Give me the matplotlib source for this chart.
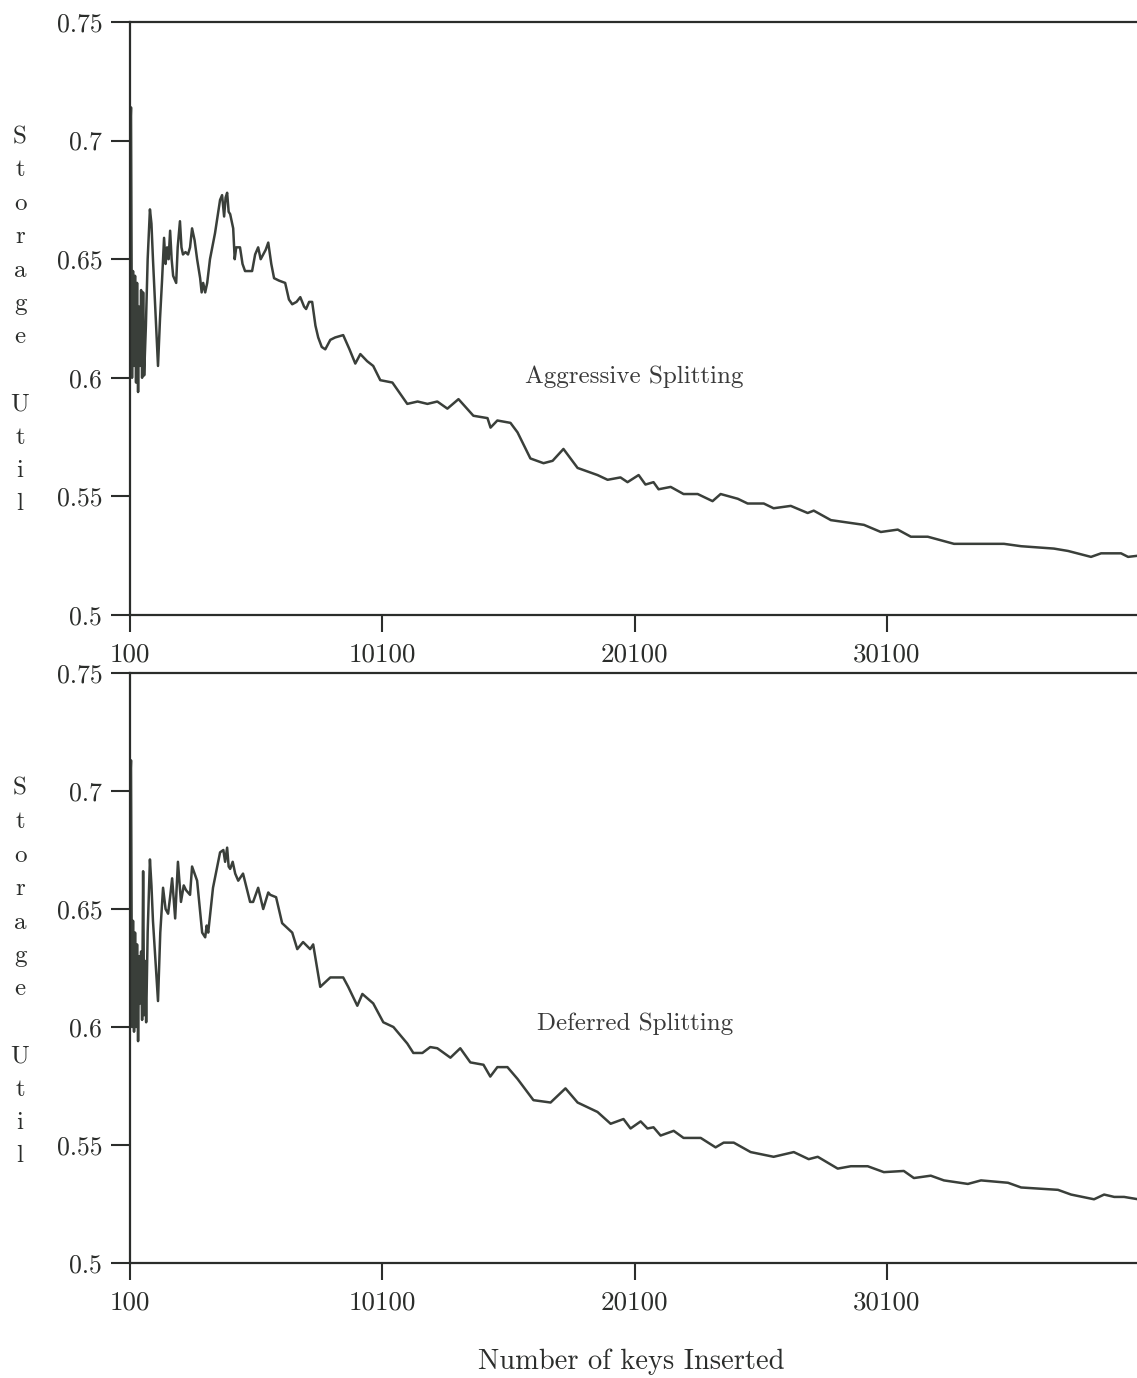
import matplotlib.pyplot as plt

plt.rcParams['font.family'] = ['cmr10', 'DejaVu Serif']
plt.rcParams['axes.unicode_minus'] = False

# Data (keys inserted vs storage utilisation)
top_keys = [100, 140, 180, 220, 260, 300, 340, 380, 420, 460,
            500, 540, 580, 620, 660, 730, 800, 890, 950, 1010,
            1210, 1290, 1370, 1450, 1510, 1570, 1630, 1690, 1750, 1810,
            1930, 1990, 2080, 2140, 2200, 2300, 2400, 2480, 2560, 2660,
            2760, 2880, 2940, 3000, 3080, 3160, 3270, 3470, 3670, 3750,
            3830, 3890, 3950, 4010, 4070, 4190, 4250, 4310, 4460, 4560,
            4660, 4940, 5060, 5180, 5280, 5380, 5480, 5580, 5700, 5810,
            6000, 6250, 6400, 6530, 6700, 6850, 7000, 7080, 7200, 7320,
            7450, 7560, 7700, 7840, 8040, 8230, 8550, 8800, 9030, 9230,
            9500, 9740, 10020, 10500, 11090, 11500, 11890, 12280, 12680, 13120,
            13710, 14270, 14390, 14660, 15180, 15460, 15970, 16490, 16850, 17280,
            17840, 18630, 19030, 19540, 19820, 20260, 20530, 20850, 21050, 21530,
            22040, 22600, 23190, 23510, 24190, 24580, 25220, 25610, 26290, 26960,
            27200, 27880, 28550, 29190, 29860, 30530, 31050, 31720, 32760, 33550,
            34740, 35420, 36720, 37280, 38190, 38590, 39110, 39380, 39660, 40060]
top_util = [0.700, 0.714, 0.600, 0.645, 0.605, 0.643, 0.598, 0.640, 0.594, 0.630,
            0.605, 0.637, 0.600, 0.636, 0.601, 0.622, 0.650, 0.671, 0.665, 0.650,
            0.605, 0.625, 0.641, 0.659, 0.648, 0.655, 0.650, 0.662, 0.650, 0.643,
            0.640, 0.655, 0.666, 0.655, 0.652, 0.653, 0.652, 0.655, 0.663, 0.658,
            0.650, 0.642, 0.636, 0.640, 0.636, 0.640, 0.650, 0.661, 0.675, 0.677,
            0.668, 0.676, 0.678, 0.670, 0.669, 0.663, 0.650, 0.655, 0.655, 0.648,
            0.645, 0.645, 0.652, 0.655, 0.650, 0.652, 0.654, 0.657, 0.648, 0.642,
            0.641, 0.640, 0.633, 0.631, 0.632, 0.634, 0.630, 0.629, 0.632, 0.632,
            0.622, 0.617, 0.613, 0.612, 0.616, 0.617, 0.618, 0.612, 0.606, 0.610,
            0.607, 0.605, 0.599, 0.598, 0.589, 0.590, 0.589, 0.590, 0.587, 0.591,
            0.584, 0.583, 0.579, 0.582, 0.581, 0.577, 0.566, 0.564, 0.565, 0.570,
            0.562, 0.559, 0.557, 0.558, 0.556, 0.559, 0.555, 0.556, 0.553, 0.554,
            0.551, 0.551, 0.548, 0.551, 0.549, 0.547, 0.547, 0.545, 0.546, 0.543,
            0.544, 0.540, 0.539, 0.538, 0.535, 0.536, 0.533, 0.533, 0.530, 0.530,
            0.530, 0.529, 0.528, 0.527, 0.5245, 0.526, 0.526, 0.526, 0.5245, 0.525]

bot_keys = [100, 140, 180, 220, 260, 300, 340, 380, 420, 460,
            500, 540, 580, 620, 660, 700, 740, 800, 890, 950,
            1010, 1210, 1300, 1410, 1510, 1610, 1700, 1770, 1890, 2000,
            2120, 2230, 2320, 2480, 2560, 2760, 2960, 3080, 3140, 3200,
            3390, 3670, 3800, 3870, 3950, 4010, 4070, 4170, 4270, 4390,
            4580, 4860, 4980, 5180, 5380, 5580, 5660, 5890, 6130, 6330,
            6530, 6730, 6960, 7240, 7360, 7640, 8040, 8550, 8750, 9110,
            9310, 9740, 10140, 10540, 11090, 11330, 11690, 12000, 12280, 12800,
            13190, 13590, 14110, 14380, 14660, 15060, 15460, 16090, 16770, 17360,
            17840, 18630, 19150, 19660, 19940, 20340, 20610, 20850, 21130, 21650,
            22040, 22720, 23310, 23630, 24030, 24700, 25610, 26410, 27000, 27360,
            28150, 28670, 29340, 29980, 30770, 31170, 31840, 32360, 33310, 33830,
            34900, 35420, 36880, 37400, 38310, 38710, 39110, 39500, 40060]
bot_util = [0.700, 0.713, 0.600, 0.645, 0.598, 0.640, 0.600, 0.635, 0.594, 0.630,
            0.610, 0.632, 0.603, 0.666, 0.605, 0.628, 0.602, 0.640, 0.671, 0.660,
            0.645, 0.611, 0.640, 0.659, 0.650, 0.648, 0.656, 0.663, 0.646, 0.670,
            0.653, 0.660, 0.658, 0.656, 0.668, 0.662, 0.640, 0.638, 0.643, 0.640,
            0.659, 0.674, 0.675, 0.670, 0.676, 0.668, 0.667, 0.670, 0.665, 0.662,
            0.665, 0.653, 0.653, 0.659, 0.650, 0.657, 0.656, 0.655, 0.644, 0.642,
            0.640, 0.633, 0.636, 0.633, 0.635, 0.617, 0.621, 0.621, 0.617, 0.609,
            0.614, 0.610, 0.602, 0.600, 0.593, 0.589, 0.589, 0.5915, 0.591, 0.587,
            0.591, 0.585, 0.584, 0.579, 0.583, 0.583, 0.578, 0.569, 0.568, 0.574,
            0.568, 0.564, 0.559, 0.561, 0.557, 0.560, 0.557, 0.5575, 0.554, 0.556,
            0.553, 0.553, 0.549, 0.551, 0.551, 0.547, 0.545, 0.547, 0.544, 0.545,
            0.540, 0.541, 0.541, 0.5385, 0.539, 0.536, 0.537, 0.535, 0.5335, 0.535,
            0.534, 0.532, 0.531, 0.529, 0.527, 0.529, 0.528, 0.528, 0.527]

x_ticks = [100, 10100, 20100, 30100]
x_ticklabels = ['100', '10100', '20100', '30100']
y_ticks = [0.5, 0.55, 0.6, 0.65, 0.7, 0.75]
y_ticklabels = ['0.5', '0.55', '0.6', '0.65', '0.7', '0.75']
panel_labels = ['Aggressive Splitting', 'Deferred Splitting']
ylabel_text = 'Storage Util'
xlabel_text = 'Number of keys Inserted'

W, H = 1137, 1378
ink = '#2b2d2b'
line_color = '#3a3f3a'

fig = plt.figure(figsize=(W / 100, H / 100), dpi=100)
fig.patch.set_facecolor('white')

# axes boxes in pixel terms: (top y, bottom y)
boxes = [(22, 615), (673, 1263)]
series = [(top_keys, top_util), (bot_keys, bot_util)]
label_pos = [(20100, 0.6003), (20100, 0.6013)]

for i, ((ytop, ybot), (keys, util)) in enumerate(zip(boxes, series)):
    ax = fig.add_axes([130 / W, 1 - ybot / H, 1 - 130 / W, (ybot - ytop) / H])
    ax.plot(keys, util, color=line_color, linewidth=1.8)
    ax.set_xlim(100, 40013)
    ax.set_ylim(0.5, 0.75)

    for side in ['left', 'bottom', 'top']:
        ax.spines[side].set_color(ink)
        ax.spines[side].set_linewidth(1.6)
    ax.spines['right'].set_visible(False)

    ax.set_xticks(x_ticks)
    ax.set_xticklabels(x_ticklabels)
    ax.set_yticks(y_ticks)
    ax.set_yticklabels(y_ticklabels)
    ax.tick_params(axis='y', direction='out', length=14, width=1.5, color=ink,
                   pad=6, labelsize=18.5, labelcolor=ink)
    ax.tick_params(axis='x', direction='out', length=12, width=1.5, color=ink,
                   pad=8, labelsize=19.5, labelcolor=ink)

    ax.text(label_pos[i][0], label_pos[i][1], panel_labels[i], ha='center',
            va='center', fontsize=18, color='#3a3a3a')

    # vertical stacked y label, one letter per line
    base = 143 + i * 652
    step = 33.4
    for j, ch in enumerate(ylabel_text):
        if ch == ' ':
            continue
        fig.text(20 / W, 1 - (base + j * step) / H, ch, ha='center',
                 va='baseline', fontsize=18, color=ink)

fig.text(631 / W, 1 - 1369 / H, xlabel_text, ha='center', va='baseline',
         fontsize=20.5, color=ink)

fig.savefig('out.png', dpi=100, facecolor='white')
